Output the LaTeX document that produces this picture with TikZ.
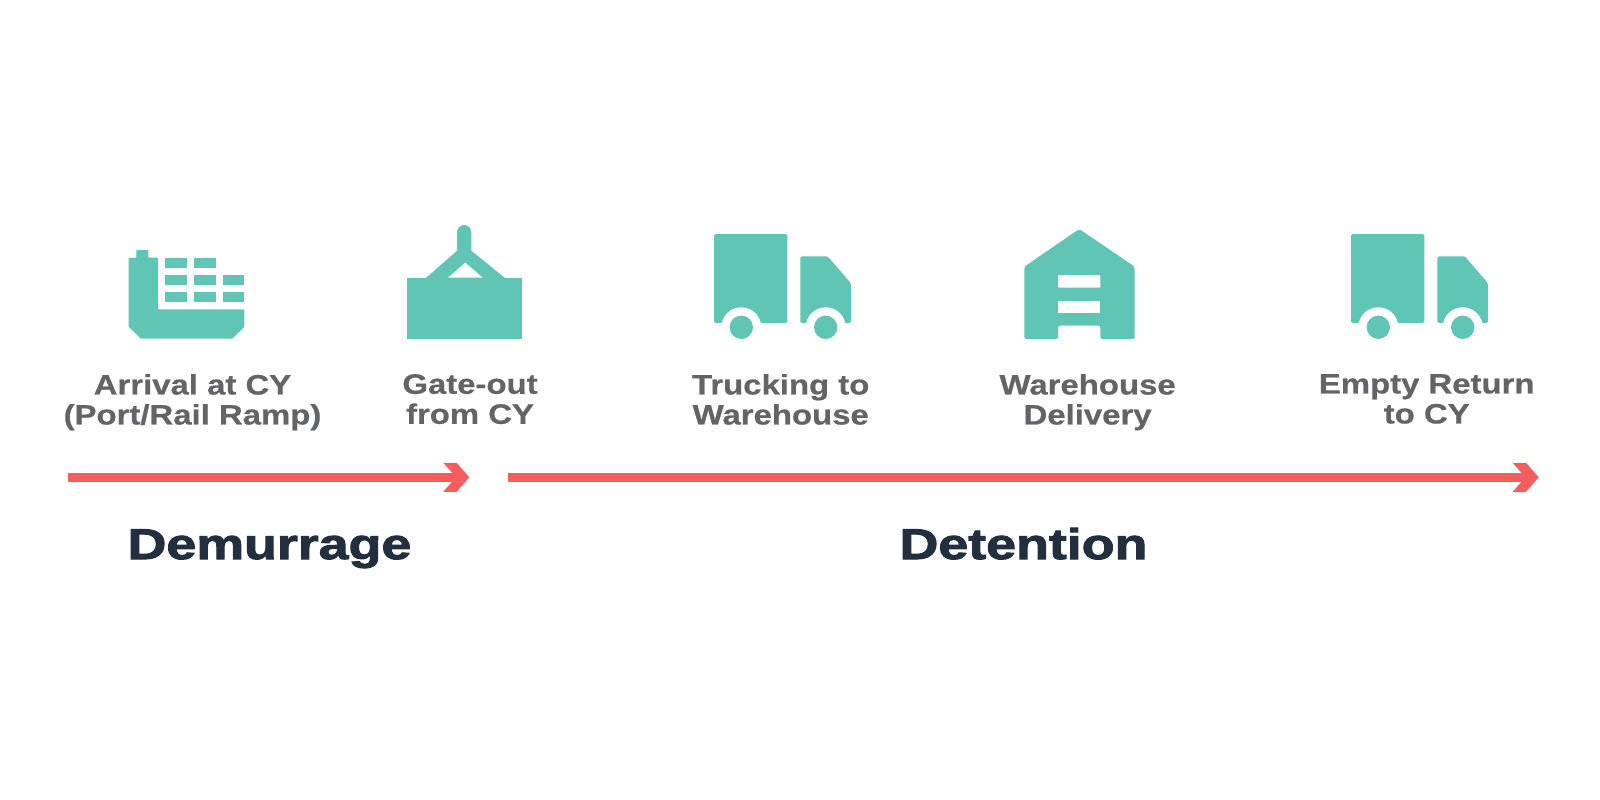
\documentclass[tikz,border=0pt]{standalone}
\usepackage{fontspec}
\usetikzlibrary{calc}
\newfontfamily\labelfont[FakeStretch=1.175,FakeBold=0.6]{Liberation Sans Bold}
\newfontfamily\titlefont[FakeStretch=1.25,FakeBold=2.4]{Liberation Sans Bold}
\definecolor{teal1}{HTML}{60C5B4}
\definecolor{red1}{HTML}{F55D5E}
\definecolor{grey1}{HTML}{636466}
\definecolor{navy1}{HTML}{232F3E}
\tikzset{
  icon/.style={fill=teal1,draw=none},
  cut/.style={fill=white,draw=none},
  steplabel/.style={text=grey1,align=center,inner sep=0pt,anchor=north,font=\labelfont\fontsize{28}{30}\selectfont},
  titlelabel/.style={text=navy1,inner sep=0pt,anchor=base,font=\titlefont\fontsize{43}{46}\selectfont},
  flow/.style={draw=red1,line width=8.7pt,shorten >=13pt},
  chevron/.pic={\fill[red1] (-26,-14.5) -- (-12.7,-14.5) -- (0,0) -- (-12.7,14.5) -- (-26,14.5) -- (-13.3,0) -- cycle;},
  truck/.pic={
    \fill[icon,rounded corners=1.5pt] (0,0) rectangle (73.3,89);
    \fill[icon,rounded corners=1.5pt] (86.3,22.3) -- (113.7,22.3) -- (137,49.3) -- (137,89) -- (86.3,89) -- cycle;
    \fill[cut] (27.3,93.3) circle (20);
    \fill[cut] (111.7,93.3) circle (20);
    \fill[cut] (0,89) rectangle (137,110);
    \fill[icon] (27.3,93.3) circle (11.7);
    \fill[icon] (111.7,93.3) circle (11.7);
  }
}
\begin{document}
\begin{tikzpicture}[x=1pt,y=-1pt]
\useasboundingbox (0,0) rectangle (1600,800);
% ship
\fill[icon,rounded corners=1pt] (136.3,258) -- (136.3,250) -- (148.3,250) -- (148.3,257.7) -- (158,257.7) -- (158,309.3) -- (244.3,309.3) -- (244.3,326.7) -- (232.3,338.7) -- (141,338.7) -- (128.5,326.7) -- (128.5,257.7) -- cycle;
\foreach \yy/\hh in {257.7/10,275.3/9.7,292.3/9.7}{
  \fill[icon] (165,\yy) rectangle ++(22,\hh);
  \fill[icon] (194,\yy) rectangle ++(21.7,\hh);
}
\foreach \yy/\hh in {275.3/9.7,292.3/9.7}{
  \fill[icon] (223,\yy) rectangle ++(21.3,\hh);
}
% container on hook
\fill[icon] (406.7,277.7) rectangle (521.7,338.7);
\fill[icon] (426,278) -- (457,250.7) -- (457,232.2) arc (180:360:7.15) -- (471.3,250.7) -- (505,278) -- cycle;
\fill[cut] (465.3,262.7) -- (448,277.7) -- (482.7,277.7) -- cycle;
% trucks
\pic at (714,234) {truck};
\pic at (1351,234) {truck};
% warehouse
\fill[icon,rounded corners=2pt] (1024.3,266.7) -- (1079.3,229) -- (1134.7,266.7) -- (1134.7,339) -- (1100.3,339) -- (1100.3,325.7) -- (1058,325.7) -- (1058,339) -- (1024.3,339) -- cycle;
\fill[cut,rounded corners=1pt] (1058,275) rectangle (1100.3,287.7);
\fill[cut] (1058,300.7) rectangle (1100.3,313.3);
% labels
\node[steplabel] (l1) at (192.5,374) {Arrival at CY\\(Port/Rail Ramp)};
\node[steplabel] (l2) at (470,374) {Gate-out\\from CY};
\node[steplabel] (l3) at (780.7,374) {Trucking to\\Warehouse};
\node[steplabel] (l4) at (1087.6,374) {Warehouse\\Delivery};
\node[steplabel] (l5) at (1426.7,374) {Empty Return\\to CY};
% arrows
\coordinate (a1) at (68.3,477.3);
\coordinate (b1) at (469.3,477.3);
\coordinate (a2) at (508.3,477.3);
\coordinate (b2) at (1538.7,477.3);
\draw[flow] (a1) -- (b1);
\draw[flow] (a2) -- (b2);
\pic at (b1) {chevron};
\pic at (b2) {chevron};
% titles
\node[titlelabel] (t1) at (269.5,559) {Demurrage};
\node[titlelabel] (t2) at (1023.5,559) {Detention};
\end{tikzpicture}
\end{document}
